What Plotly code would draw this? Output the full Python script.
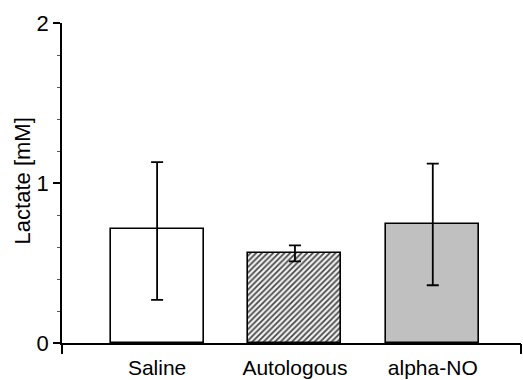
import plotly.graph_objects as go

categories = ["Saline", "Autologous", "alpha-NO"]
lactate = [0.71, 0.565, 0.746]
err_plus = [0.42, 0.045, 0.375]
err_minus = [0.44, 0.055, 0.385]
y_ticks = [0, 1, 2]

xpos = list(range(len(categories)))
x_range = [-0.69, 2.64]

fig = go.Figure()
fig.add_trace(go.Bar(
    x=xpos, y=lactate, width=0.675,
    marker=dict(
        color=["white", "#f0f0f0", "#c0c0c0"],
        line=dict(color="black", width=1.6),
        pattern=dict(shape=["", "/", ""], fgcolor="#222222", fgopacity=1,
                     size=4, solidity=0.42, fillmode="overlay"),
    ),
    error_y=dict(type="data", symmetric=False, array=err_plus, arrayminus=err_minus,
                 color="black", thickness=1.8, width=6),
    showlegend=False, hoverinfo="skip",
))
# invisible trace to carry the end-tick axis
fig.add_trace(go.Scatter(x=x_range, y=[0, 0], xaxis="x2", mode="lines",
                         line=dict(color="rgba(0,0,0,0)"), showlegend=False, hoverinfo="skip"))

font = "Liberation Sans, Arial, sans-serif"
fig.update_layout(
    width=523, height=380,
    margin=dict(l=62, r=2, t=23, b=37),
    paper_bgcolor="white", plot_bgcolor="white",
    font=dict(family=font, color="black"),
    bargap=0,
    xaxis=dict(range=x_range, tickmode="array", tickvals=xpos, ticktext=categories,
               ticks="outside", ticklen=5, tickcolor="rgba(0,0,0,0)",
               tickfont=dict(size=21, family=font, color="black"), automargin=False,
               showline=True, linecolor="black", linewidth=1.5,
               showgrid=False, zeroline=False, fixedrange=True),
    xaxis2=dict(range=x_range, overlaying="x", side="bottom", tickmode="array",
                tickvals=x_range, ticktext=["", ""], ticks="outside", ticklen=10,
                tickwidth=1.5, tickcolor="black", showline=False, showgrid=False,
                zeroline=False, fixedrange=True, automargin=False),
    yaxis=dict(range=[0, 2], tickmode="array", tickvals=y_ticks,
               ticks="outside", ticklen=7, tickwidth=1.5, tickcolor="black",
               minor=dict(dtick=0.2, tick0=0, ticks="outside", ticklen=3,
                          tickwidth=1, tickcolor="#555555", showgrid=False),
               tickfont=dict(size=22, family=font, color="black"), automargin=False,
               showline=True, linecolor="black", linewidth=1.5,
               showgrid=False, zeroline=False, fixedrange=True),
    annotations=[dict(text="Lactate [mM]", textangle=-90, xref="paper", yref="paper",
                      x=0, y=0.505, xanchor="center", yanchor="middle", xshift=-40,
                      showarrow=False, font=dict(size=22, family=font, color="black"))],
)

fig.write_html("out.html")
